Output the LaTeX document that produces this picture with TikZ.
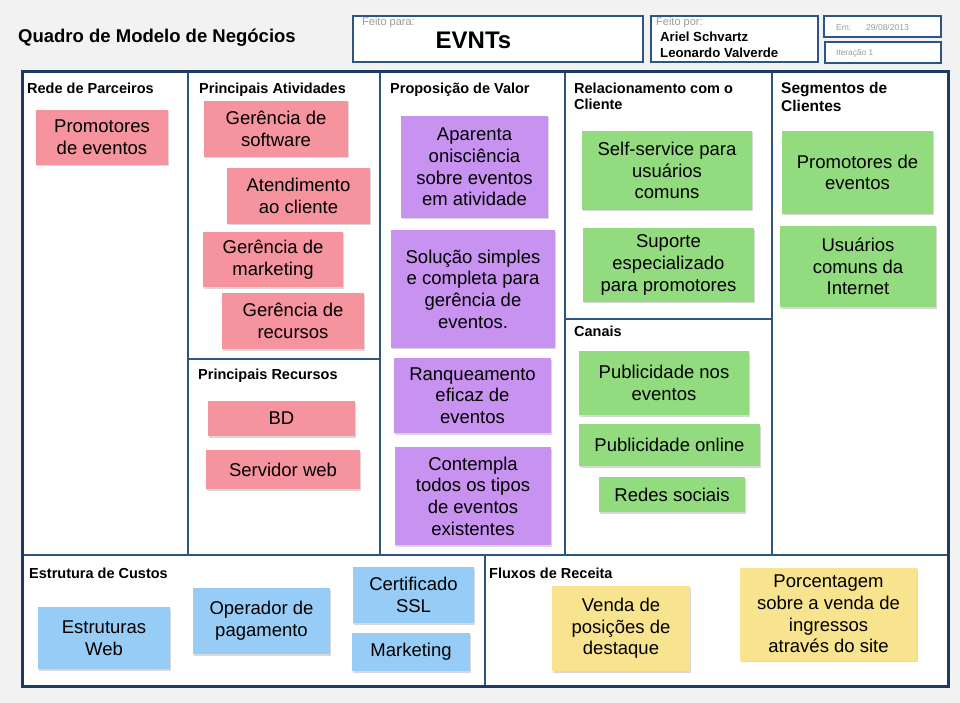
\documentclass[tikz,border=0pt]{standalone}
\usepackage{fontspec}
\setmainfont{Liberation Sans}
\usetikzlibrary{shadows}
\definecolor{bg}{HTML}{F2F2F2}
\definecolor{navy}{HTML}{1B3A64}
\definecolor{gridline}{HTML}{2E5481}
\definecolor{pinkn}{HTML}{F5939E}
\definecolor{purpn}{HTML}{C792F0}
\definecolor{greenn}{HTML}{93DB7F}
\definecolor{bluen}{HTML}{96CCF5}
\definecolor{yelln}{HTML}{F8E38F}
\definecolor{graytxt}{HTML}{9A9A9A}
\tikzset{
  note/.style={align=center, inner sep=0pt, font=\fontsize{18.5}{21.6}\selectfont,
    drop shadow={shadow xshift=1.2pt, shadow yshift=-1.5pt, opacity=0.3}},
  pinknote/.style={note, fill=pinkn},
  purpnote/.style={note, fill=purpn},
  greennote/.style={note, fill=greenn},
  bluenote/.style={note, fill=bluen},
  yellnote/.style={note, fill=yelln},
  seclabel/.style={anchor=base west, inner sep=0pt, font=\fontsize{14.5}{16}\selectfont\bfseries},
  hdrbox/.style={draw=gridline, line width=1.2pt, fill=white},
  graylabel/.style={anchor=base west, inner sep=0pt, text=graytxt},
}
\begin{document}
\begin{tikzpicture}[x=1pt,y=-1pt]
\useasboundingbox (0,0) rectangle (960,703);
\fill[bg] (0,0) rectangle (960,703);

% header
\node[anchor=base west, inner sep=0pt, font=\fontsize{18.5}{22}\selectfont\bfseries] (title) at (18,42.5) {Quadro de Modelo de Negócios};
\draw[hdrbox] (353,16) rectangle (643,62);
\node[graylabel, font=\fontsize{11}{13}\selectfont] (fpara) at (362,26) {Feito para:};
\node[anchor=base, inner sep=0pt, font=\fontsize{24}{28}\selectfont\bfseries] (evnts) at (473.5,48.5) {EVNTs};
\draw[hdrbox] (651,16) rectangle (818,62);
\node[graylabel, font=\fontsize{11}{13}\selectfont] (fpor) at (656,26) {Feito por:};
\node[anchor=base west, inner sep=0pt, font=\fontsize{13.2}{15}\selectfont\bfseries] (ariel) at (660,41.8) {Ariel Schvartz};
\node[anchor=base west, inner sep=0pt, font=\fontsize{13.2}{15}\selectfont\bfseries] (leo) at (660,57.8) {Leonardo Valverde};
\draw[hdrbox] (824,16) rectangle (941,37);
\node[graylabel, font=\fontsize{8.5}{10}\selectfont] (em) at (836,30.3) {Em:};
\node[graylabel, font=\fontsize{8.5}{10}\selectfont] (data) at (866,30.3) {29/08/2013};
\draw[hdrbox] (825,42) rectangle (941,63);
\node[graylabel, font=\fontsize{8.3}{10}\selectfont] (iter) at (836,55.3) {Iteração 1};

% canvas
\fill[white] (22,72) rectangle (948,686);
\draw[gridline, line width=1.6pt] (188,72) -- (188,555) (380,72) -- (380,555)
  (565,72) -- (565,555) (772,72) -- (772,555) (22,555) -- (948,555)
  (188,359) -- (380,359) (565,319) -- (772,319) (485,555) -- (485,686);
\draw[navy, line width=3pt] (22,72) rectangle (948,686);

% section labels
\node[seclabel] (lrede) at (27,93.5) {Rede de Parceiros};
\node[seclabel] (lativ) at (199,93.5) {Principais Atividades};
\node[seclabel] (lprop) at (390,93.5) {Proposição de Valor};
\node[seclabel] (lrel1) at (574,93.5) {Relacionamento com o};
\node[seclabel] (lrel2) at (574,109.5) {Cliente};
\node[seclabel, font=\fontsize{15.5}{17}\selectfont\bfseries] (lseg1) at (781,93.5) {Segmentos de};
\node[seclabel, font=\fontsize{15.5}{17}\selectfont\bfseries] (lseg2) at (781,111.5) {Clientes};
\node[seclabel] (lrec) at (198,379.5) {Principais Recursos};
\node[seclabel] (lcan) at (574,336.5) {Canais};
\node[seclabel] (lcust) at (29,578.5) {Estrutura de Custos};
\node[seclabel] (lflux) at (489,578.5) {Fluxos de Receita};

% pink notes
\node[pinknote, minimum width=132, minimum height=55] (p1) at (102,137.5) {Promotores\\de eventos};
\node[pinknote, minimum width=144, minimum height=56] (p2) at (276,129) {Gerência de\\software};
\node[pinknote, minimum width=143, minimum height=56] (p3) at (298.5,196) {Atendimento\\ao cliente};
\node[pinknote, minimum width=140, minimum height=55] (p4) at (273,259.5) {Gerência de\\marketing};
\node[pinknote, minimum width=142, minimum height=56] (p5) at (293,321) {Gerência de\\recursos};
\node[pinknote, minimum width=147, minimum height=35] (p6) at (281.5,418.5) {BD};
\node[pinknote, minimum width=154, minimum height=39] (p7) at (283,469.5) {Servidor web};

% purple notes
\node[purpnote, minimum width=147, minimum height=102] (v1) at (474.5,167) {Aparenta\\onisciência\\sobre eventos\\em atividade};
\node[purpnote, minimum width=164, minimum height=117] (v2) at (473,289) {Solução simples\\e completa para\\gerência de\\eventos.};
\node[purpnote, minimum width=157, minimum height=75] (v3) at (472.5,395.5) {Ranqueamento\\eficaz de\\eventos};
\node[purpnote, minimum width=156, minimum height=98] (v4) at (473,496) {Contempla\\todos os tipos\\de eventos\\existentes};

% green notes
\node[greennote, minimum width=170, minimum height=79] (g1) at (667,170.5) {Self-service para\\usuários\\comuns};
\node[greennote, minimum width=171, minimum height=73] (g2) at (668.5,265) {Suporte\\especializado\\para promotores};
\node[greennote, minimum width=170, minimum height=64] (g3) at (664,383) {Publicidade nos\\eventos};
\node[greennote, minimum width=181, minimum height=42] (g4) at (669.5,445) {Publicidade online};
\node[greennote, minimum width=146, minimum height=35] (g5) at (672,494.5) {Redes sociais};
\node[greennote, minimum width=151, minimum height=83] (g6) at (857.5,172.5) {Promotores de\\eventos};
\node[greennote, minimum width=156, minimum height=81] (g7) at (858,266.5) {Usuários\\comuns da\\Internet};

% blue notes
\node[bluenote, minimum width=132, minimum height=62] (b1) at (104,638) {Estruturas\\Web};
\node[bluenote, minimum width=137, minimum height=66] (b2) at (261.5,621) {Operador de\\pagamento};
\node[bluenote, minimum width=121, minimum height=56] (b3) at (413.5,595) {Certificado\\SSL};
\node[bluenote, minimum width=118, minimum height=38] (b4) at (411,652) {Marketing};

% yellow notes
\node[yellnote, minimum width=138, minimum height=85] (y1) at (621,628.5) {Venda de\\posições de\\destaque};
\node[yellnote, minimum width=177, minimum height=93] (y2) at (828.5,614) {Porcentagem\\sobre a venda de\\ingressos\\através do site};
\end{tikzpicture}
\end{document}
